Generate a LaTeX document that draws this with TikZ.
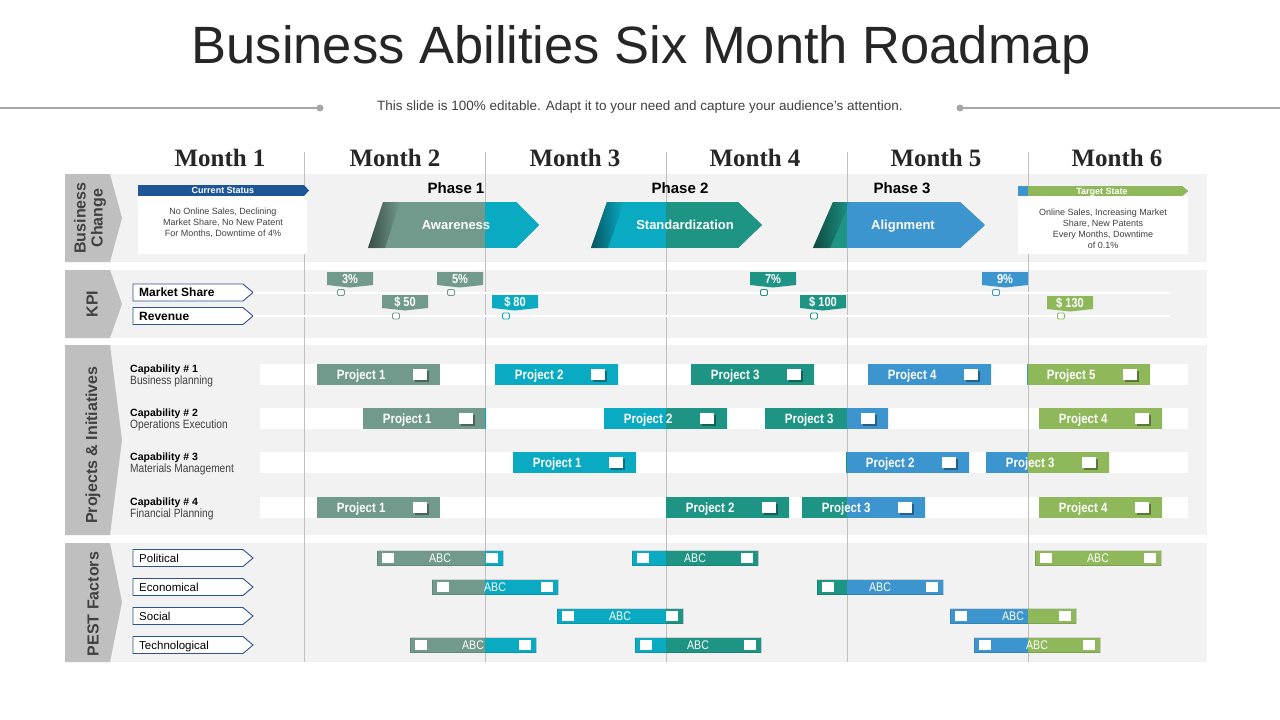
\documentclass[tikz,border=0pt]{standalone}
\usepackage{fontspec}
\setmainfont{Liberation Sans}
\newfontfamily\narrowfont[FakeStretch=0.85]{Liberation Sans}
\newfontfamily\monthfont{Liberation Serif}
\usepackage{tikz}
\usetikzlibrary{fadings}

\definecolor{mcA}{HTML}{719A8C}
\definecolor{mcB}{HTML}{0AABC2}
\definecolor{mcC}{HTML}{1E9484}
\definecolor{mcD}{HTML}{3D95CF}
\definecolor{mcE}{HTML}{8FB85B}
\definecolor{panel}{HTML}{F2F2F2}
\definecolor{tabgray}{HTML}{BFBFBF}
\definecolor{darktext}{HTML}{404040}
\definecolor{navy}{HTML}{1D5597}
\definecolor{lblline}{HTML}{2F5290}
\definecolor{gridgray}{HTML}{BFBFBF}
\definecolor{subgray}{HTML}{A6A6A6}

% colour of a bar follows the month column it lies in
\newcommand\monthfill{%
  \fill[mcA] (path picture bounding box.south west) rectangle (path picture bounding box.north east);
  \fill[mcB] (m3 |- path picture bounding box.south) rectangle (m4 |- path picture bounding box.north);
  \fill[mcC] (m4 |- path picture bounding box.south) rectangle (m5 |- path picture bounding box.north);
  \fill[mcD] (m5 |- path picture bounding box.south) rectangle (m6 |- path picture bounding box.north);
  \fill[mcE] (m6 |- path picture bounding box.south) rectangle (mend |- path picture bounding box.north);
}
\newcommand\projchk{%
  \fill[black, opacity=.35] ([xshift=-25.5pt, yshift=-7pt]path picture bounding box.east) rectangle ([xshift=-11.5pt, yshift=4pt]path picture bounding box.east);
  \fill[white] ([xshift=-27pt, yshift=-5.5pt]path picture bounding box.east) rectangle ([xshift=-13pt, yshift=5.5pt]path picture bounding box.east);
}
\newcommand\pestchk{%
  \fill[white] ([xshift=5pt, yshift=-5pt]path picture bounding box.west) rectangle ([xshift=17pt, yshift=5pt]path picture bounding box.west);
  \fill[white] ([xshift=-17pt, yshift=-5pt]path picture bounding box.east) rectangle ([xshift=-5pt, yshift=5pt]path picture bounding box.east);
}
% name, y, text, style
\newcommand\sidelabel[4]{%
  \draw[lblbox] (133,#2-8.5) -- (243,#2-8.5) -- (253,#2) -- (243,#2+8.5) -- (133,#2+8.5) -- cycle;
  \node[#4, anchor=west] (#1) at (139,#2) {#3};
  \coordinate (#1tip) at (253,#2);
}
% name, left, top, text, colour, line y
\newcommand\kpiflag[6]{%
  \fill[#5] (#2,#3) -- (#2+46,#3) -- (#2+46,#3+13) -- (#2+23,#3+15.5) -- (#2,#3+13) -- cycle;
  \node[flagtxt] (#1) at (#2+23,#3+7) {#4};
  \draw[#5, fill=white, line width=0.8pt, rounded corners=1.2pt] (#2+10.5,#6-3) rectangle (#2+17.5,#6+3);
}

\begin{document}
\begin{tikzpicture}[
    x=1pt, y=-1pt,
    title/.style={font=\fontsize{52.5}{56}\selectfont, text=black!85},
    subtitle/.style={font=\fontsize{13.5}{15}\selectfont, text=darktext},
    month/.style={font=\monthfont\bfseries\fontsize{25}{25}\selectfont, text=black!85},
    tabtxt/.style={font=\bfseries\fontsize{16}{17}\selectfont, text=darktext, rotate=90, align=center},
    phase/.style={font=\bfseries\fontsize{15}{15}\selectfont, text height=10.8pt, text depth=0pt},
    arrtxt/.style={font=\bfseries\fontsize{13}{13}\selectfont, text=white, text height=9.3pt, text depth=0pt},
    hdrtxt/.style={font=\bfseries\fontsize{9}{9}\selectfont, text=white, inner sep=0pt, text height=6.5pt, text depth=0pt},
    bodytxt/.style={font=\fontsize{9}{11}\selectfont, text=darktext, align=center},
    kpitxt/.style={font=\bfseries\fontsize{12}{12}\selectfont, inner sep=0pt, text height=8.6pt, text depth=0pt},
    pesttxt/.style={font=\fontsize{11.5}{12}\selectfont, inner sep=0pt, text height=8.2pt, text depth=0pt},
    captxt/.style={font=\bfseries\fontsize{10.5}{11}\selectfont, anchor=west, inner sep=0pt, text height=7.5pt, text depth=0pt},
    capsub/.style={font=\narrowfont\fontsize{12}{12}\selectfont, text=darktext, anchor=west, inner sep=0pt, text height=8.6pt, text depth=0pt},
    flagtxt/.style={font=\narrowfont\bfseries\fontsize{13}{13}\selectfont, text=white, inner sep=0pt, text height=9.3pt, text depth=0pt},
    lblbox/.style={draw=lblline, fill=white, line width=0.9pt},
    vline/.style={draw=gridgray, line width=0.8pt},
    kpiline/.style={draw=white, line width=2pt},
    colfill/.style={path picture={\monthfill}},
    pbar/.style={path picture={\monthfill\projchk}, anchor=west, minimum width=123pt, minimum height=21pt, inner sep=0pt,
        text height=9.7pt, text depth=0pt,
        text=white, font=\narrowfont\bfseries\fontsize{13.5}{13.5}\selectfont, execute at end node={\hspace*{35pt}}},
    abar/.style={path picture={\monthfill\pestchk}, minimum width=126pt, minimum height=15pt, inner sep=0pt,
        text height=9pt, text depth=0pt,
        draw=black, draw opacity=.12, text=white, font=\narrowfont\fontsize{12.5}{12.5}\selectfont},
]
\useasboundingbox (0,0) rectangle (1280,720);
\fill[white] (0,0) rectangle (1280,720);

% month column borders
\coordinate (m2) at (304,0);
\coordinate (m3) at (485,0);
\coordinate (m4) at (666,0);
\coordinate (m5) at (847,0);
\coordinate (m6) at (1028,0);
\coordinate (mend) at (1280,0);

% === Title ===
\node[title] (title) at (641,50) {Business Abilities Six Month Roadmap};
\node[subtitle] (sub) at (640,107.5) {This slide is 100\% editable. Adapt it to your need and capture your audience’s attention.};
\coordinate (dotL) at (320,108);
\coordinate (dotR) at (960,108);
\coordinate (edgeL) at (0,108);
\coordinate (edgeR) at (1280,108);
\draw[subgray, line width=1.2pt] (edgeL) -- (dotL);
\draw[subgray, line width=1.2pt] (dotR) -- (edgeR);
\fill[subgray] (dotL) circle (3.5);
\fill[subgray] (dotR) circle (3.5);

% === Month headers ===
\foreach \n/\x in {1/220, 2/395, 3/575, 4/755, 5/936, 6/1117}
    \node[month] (mon\n) at (\x,158) {Month \n};

% === Panels and tabs ===
\fill[panel] (65,174) rectangle (1207,262);
\fill[panel] (65,270) rectangle (1207,338);
\fill[panel] (65,345) rectangle (1207,535);
\fill[panel] (65,543) rectangle (1207,662);
\fill[tabgray] (65,174) -- (110,174) -- (122,218) -- (110,262) -- (65,262) -- cycle;
\fill[tabgray] (65,270) -- (110,270) -- (122,304) -- (110,338) -- (65,338) -- cycle;
\fill[tabgray] (65,345) -- (110,345) -- (122,440) -- (110,535) -- (65,535) -- cycle;
\fill[tabgray] (65,543) -- (110,543) -- (122,602) -- (110,662) -- (65,662) -- cycle;
\node[tabtxt] (tabbc) at (90,218) {Business\\Change};
\node[tabtxt] (tabkpi) at (92,304) {KPI};
\node[tabtxt] (tabpi) at (93,445) {Projects \& Initiatives};
\node[tabtxt] (tabpest) at (93,604) {PEST Factors};

% white bands of the capability rows
\foreach \y in {364,408,452,497}
    \fill[white] (260,\y) rectangle (1188,\y+21);

% column lines
\foreach \m in {m2,m3,m4,m5,m6}
    \draw[vline] (\m |- 0,152) -- (\m |- 0,662);

% === Business change ===
\fill[navy] (138,185) -- (304,185) -- (309,190.5) -- (304,196) -- (138,196) -- cycle;
\fill[white] (138,196) rectangle (307,254);
\node[hdrtxt] (curhdr) at (223,190.5) {Current Status};
\node[bodytxt] (curtxt) at (223,223) {No Online Sales, Declining\\Market Share, No New Patent\\For Months, Downtime of 4\%};

\path[colfill] (368,248) -- (383,202) -- (516,202) -- (539,225) -- (516,248) -- cycle;
\fill[black, opacity=.5, path fading=east] (368,248) -- (383,202) -- (400,202) -- (385,248) -- cycle;
\path[colfill] (591,248) -- (607,202) -- (738,202) -- (762,225) -- (738,248) -- cycle;
\fill[black, opacity=.5, path fading=east] (591,248) -- (607,202) -- (624,202) -- (608,248) -- cycle;
\path[colfill] (813,248) -- (833,202) -- (960,202) -- (985,225) -- (960,248) -- cycle;
\fill[black, opacity=.5, path fading=east] (813,248) -- (833,202) -- (850,202) -- (830,248) -- cycle;
\node[phase] (ph1) at (456,188) {Phase 1};
\node[phase] (ph2) at (680,188) {Phase 2};
\node[phase] (ph3) at (902,188) {Phase 3};
\node[arrtxt] (aware) at (456,225) {Awareness};
\node[arrtxt] (stand) at (685,225) {Standardization};
\node[arrtxt] (align) at (903,225) {Alignment};

\path[colfill] (1018,186) -- (1182,186) -- (1188,191) -- (1182,196) -- (1018,196) -- cycle;
\fill[white] (1018,196) rectangle (1188,254);
\node[hdrtxt] (tgthdr) at (1102,191) {Target State};
\node[bodytxt] (tgttxt) at (1103,229) {Online Sales, Increasing Market\\Share, New Patents\\Every Months, Downtime\\of 0.1\%};

% === KPI ===
\sidelabel{mshare}{292.5}{Market Share}{kpitxt}
\sidelabel{revenue}{316}{Revenue}{kpitxt}
\coordinate (mshareend) at (1170,292.5);
\coordinate (revenueend) at (1170,316);
\draw[kpiline] (msharetip) -- (mshareend);
\draw[kpiline] (revenuetip) -- (revenueend);
\kpiflag{kA}{327}{272}{3\%}{mcA}{292.5}
\kpiflag{kB}{437}{272}{5\%}{mcA}{292.5}
\kpiflag{kC}{382}{295}{\$ 50}{mcA}{316}
\kpiflag{kD}{492}{295}{\$ 80}{mcB}{316}
\kpiflag{kE}{750}{272}{7\%}{mcC}{292.5}
\kpiflag{kF}{800}{295}{\$ 100}{mcC}{316}
\kpiflag{kG}{982}{272}{9\%}{mcD}{292.5}
\kpiflag{kH}{1047}{296}{\$ 130}{mcE}{316}

% === Projects & initiatives ===
\foreach \n/\y/\s in {1/369/Business planning, 2/413/Operations Execution, 3/457/Materials Management, 4/502/Financial Planning} {
    \node[captxt] (cap\n) at (130,\y) {Capability \# \n};
    \node[capsub] (capsub\n) at (130,\y+11) {\s};
}
\node[pbar] (c1p1) at (317,374.5) {Project 1};
\node[pbar] (c1p2) at (495,374.5) {Project 2};
\node[pbar] (c1p3) at (691,374.5) {Project 3};
\node[pbar] (c1p4) at (868,374.5) {Project 4};
\node[pbar] (c1p5) at (1027,374.5) {Project 5};
\node[pbar] (c2p1) at (363,418.5) {Project 1};
\node[pbar] (c2p2) at (604,418.5) {Project 2};
\node[pbar] (c2p3) at (765,418.5) {Project 3};
\node[pbar] (c2p4) at (1039,418.5) {Project 4};
\node[pbar] (c3p1) at (513,462.5) {Project 1};
\node[pbar] (c3p2) at (846,462.5) {Project 2};
\node[pbar] (c3p3) at (986,462.5) {Project 3};
\node[pbar] (c4p1) at (317,507.5) {Project 1};
\node[pbar] (c4p2) at (666,507.5) {Project 2};
\node[pbar] (c4p3) at (802,507.5) {Project 3};
\node[pbar] (c4p4) at (1039,507.5) {Project 4};

% === PEST factors ===
\sidelabel{polit}{558}{Political}{pesttxt}
\sidelabel{econ}{587}{Economical}{pesttxt}
\sidelabel{social}{616}{Social}{pesttxt}
\sidelabel{techno}{645}{Technological}{pesttxt}
\node[abar] (polA) at (440,558) {ABC};
\node[abar] (polB) at (695,558) {ABC};
\node[abar] (polC) at (1098,558) {ABC};
\node[abar] (ecoA) at (495,587) {ABC};
\node[abar] (ecoB) at (880,587) {ABC};
\node[abar] (socA) at (620,616) {ABC};
\node[abar] (socB) at (1013,616) {ABC};
\node[abar] (tecA) at (473,645) {ABC};
\node[abar] (tecB) at (698,645) {ABC};
\node[abar] (tecC) at (1037,645) {ABC};

\end{tikzpicture}
\end{document}
